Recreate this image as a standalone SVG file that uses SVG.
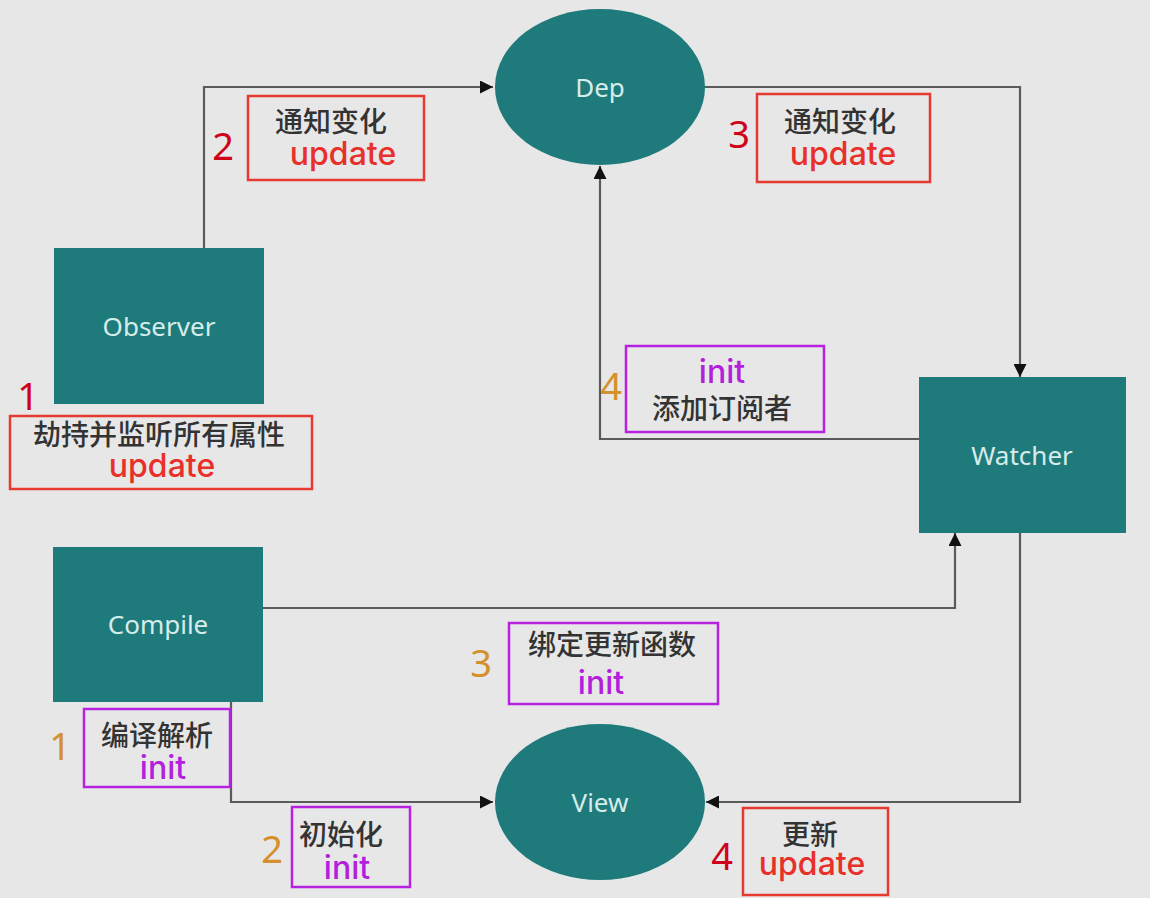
<svg xmlns="http://www.w3.org/2000/svg" width="1150" height="906" viewBox="0 0 1150 906">
<style>
.bg{fill:#e7e7e7}
.node{fill:#1f7b7b}
.nl{font-family:"Noto Sans","Liberation Sans",sans-serif;font-size:26px;fill:#d6ecea;text-anchor:middle}
.conn{fill:none;stroke:#5a5a5a;stroke-width:2.2}
.rbox{fill:none;stroke:#e63a30;stroke-width:2.5}
.pbox{fill:none;stroke:#b722e0;stroke-width:2.5}
.cn{font-family:"Noto Sans CJK SC",sans-serif;font-size:28px;font-weight:500;fill:#333;text-anchor:middle}
.up{font-family:Inter,"Noto Sans",sans-serif;font-size:32px;font-weight:500;fill:#e8302a;text-anchor:middle}
.in{font-family:Inter,"Noto Sans",sans-serif;font-size:32px;font-weight:500;fill:#b320dc;text-anchor:middle}
.nr{font-family:"Noto Sans","Liberation Sans",sans-serif;font-size:38px;fill:#d0021b;text-anchor:middle}
.no{font-family:"Noto Sans","Liberation Sans",sans-serif;font-size:38px;fill:#d4902c;text-anchor:middle}
</style>
<defs>
<marker id="ahl" viewBox="0 0 10 10" refX="10" refY="5" markerWidth="18" markerHeight="13" markerUnits="userSpaceOnUse" orient="auto">
<path d="M0,0 L10,5 L0,10 z" fill="#111"/>
</marker>
</defs>
<rect class="bg" x="0" y="0" width="1150" height="898"/>
<rect x="0" y="898" width="1150" height="8" fill="#ffffff"/>

<g id="connectors">
<path class="conn" d="M204,248 V87 H493" marker-end="url(#ahl)"/>
<path class="conn" d="M705,87 H1020 V377" marker-end="url(#ahl)"/>
<path class="conn" d="M919,439 H600 V166" marker-end="url(#ahl)"/>
<path class="conn" d="M263,608 H955 V533" marker-end="url(#ahl)"/>
<path class="conn" d="M231,702 V802 H493" marker-end="url(#ahl)"/>
<path class="conn" d="M1020,533 V802 H706" marker-end="url(#ahl)"/>
</g>

<g id="dep">
<ellipse class="node" cx="600" cy="87" rx="105" ry="78"/>
<text class="nl" x="600" y="97">Dep</text>
</g>
<g id="observer">
<rect class="node" x="54" y="248" width="210" height="156"/>
<text class="nl" x="159" y="336">Observer</text>
</g>
<g id="watcher">
<rect class="node" x="919" y="377" width="207" height="156"/>
<text class="nl" x="1022" y="465">Watcher</text>
</g>
<g id="compile">
<rect class="node" x="53" y="547" width="210" height="155"/>
<text class="nl" x="158" y="634">Compile</text>
</g>
<g id="view">
<ellipse class="node" cx="600" cy="802" rx="105" ry="78"/>
<text class="nl" x="600" y="812">View</text>
</g>

<g id="label-observer-1">
<rect class="rbox" x="10" y="416" width="302" height="73"/>
<text class="nr" x="28" y="410">1</text>
<text class="cn" x="159" y="445">劫持并监听所有属性</text>
<text class="up" x="162" y="477">update</text>
</g>
<g id="label-notify-2">
<rect class="rbox" x="248" y="96" width="176" height="84"/>
<text class="nr" x="223" y="160">2</text>
<text class="cn" x="331" y="132">通知变化</text>
<text class="up" x="343" y="165">update</text>
</g>
<g id="label-notify-3">
<rect class="rbox" x="757" y="94" width="173" height="88"/>
<text class="nr" x="739" y="148">3</text>
<text class="cn" x="840" y="132">通知变化</text>
<text class="up" x="843" y="165">update</text>
</g>
<g id="label-subscribe-4">
<rect class="pbox" x="626" y="346" width="198" height="86"/>
<text class="no" x="611" y="400">4</text>
<text class="in" x="722" y="383">init</text>
<text class="cn" x="722" y="419">添加订阅者</text>
</g>
<g id="label-bind-3">
<rect class="pbox" x="509" y="623" width="209" height="81"/>
<text class="no" x="481" y="677">3</text>
<text class="cn" x="612" y="655">绑定更新函数</text>
<text class="in" x="601" y="694">init</text>
</g>
<g id="label-compile-1">
<rect class="pbox" x="84" y="709" width="146" height="78"/>
<text class="no" x="60" y="760">1</text>
<text class="cn" x="157" y="746">编译解析</text>
<text class="in" x="163" y="779">init</text>
</g>
<g id="label-init-2">
<rect class="pbox" x="292" y="807" width="118" height="80"/>
<text class="no" x="272" y="863">2</text>
<text class="cn" x="341" y="845">初始化</text>
<text class="in" x="347" y="879">init</text>
</g>
<g id="label-update-4">
<rect class="rbox" x="743" y="808" width="145" height="87"/>
<text class="nr" x="722" y="870">4</text>
<text class="cn" x="810" y="845">更新</text>
<text class="up" x="812" y="875">update</text>
</g>
</svg>
